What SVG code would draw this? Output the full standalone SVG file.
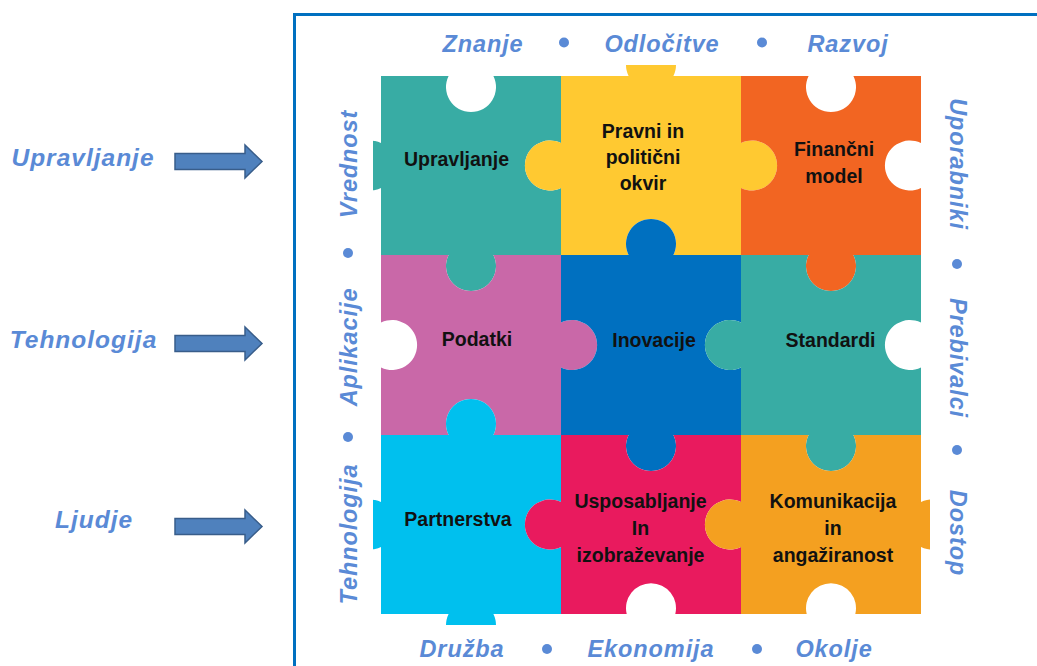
<svg xmlns="http://www.w3.org/2000/svg" width="1037" height="666" viewBox="0 0 1037 666">
<style>
.cell{font-family:"Liberation Sans",Arial,sans-serif;font-weight:bold;font-size:19.5px;fill:#111;text-anchor:middle}
.side{font-family:"Liberation Sans",Arial,sans-serif;font-weight:bold;font-style:italic;font-size:23.5px;fill:#5A8AD6;text-anchor:middle;letter-spacing:0.9px}
.big{font-size:24.5px;letter-spacing:1px}
.dot{fill:#5A8AD6}
.arrow{fill:#4F81BD;stroke:#385D8A;stroke-width:1.5}
</style>
<defs>
<clipPath id="pclip"><rect x="373" y="65" width="557" height="560"/></clipPath>
<path id="arr" d="M0,-8 H70 V-16.5 L87,0 L70,16.5 V8 H0 Z"/>
</defs>
<rect width="1037" height="666" fill="#fff"/>
<path d="M294.5,670 V14.5 H1040" fill="none" stroke="#0070C0" stroke-width="3"/>

<g id="left-labels">
<text class="side big" x="83" y="166">Upravljanje</text>
<text class="side big" x="83.5" y="348">Tehnologija</text>
<text class="side big" x="94" y="528">Ljudje</text>
</g>
<g id="connectors">
<use href="#arr" class="arrow" transform="translate(175,161.5)"/>
<use href="#arr" class="arrow" transform="translate(175,343.5)"/>
<use href="#arr" class="arrow" transform="translate(175,526.5)"/>
</g>

<g id="top-labels">
<text class="side" x="483" y="51.5">Znanje</text>
<circle class="dot" cx="564" cy="42.5" r="5"/>
<text class="side" x="662" y="51.5">Odločitve</text>
<circle class="dot" cx="762" cy="42.5" r="5"/>
<text class="side" x="848" y="51.5">Razvoj</text>
</g>
<g id="bottom-labels">
<text class="side" x="462" y="657">Družba</text>
<circle class="dot" cx="547" cy="649" r="5"/>
<text class="side" x="651" y="657">Ekonomija</text>
<circle class="dot" cx="757" cy="649" r="5"/>
<text class="side" x="834" y="657">Okolje</text>
</g>
<g id="left-vertical">
<text class="side" transform="translate(357,164) rotate(-90)">Vrednost</text>
<circle class="dot" cx="348" cy="253" r="5"/>
<text class="side" transform="translate(357,347) rotate(-90)">Aplikacije</text>
<circle class="dot" cx="348" cy="437" r="5"/>
<text class="side" transform="translate(357,534) rotate(-90)">Tehnologija</text>
</g>
<g id="right-vertical">
<text class="side" transform="translate(950,164) rotate(90)">Uporabniki</text>
<circle class="dot" cx="957" cy="264" r="5"/>
<text class="side" transform="translate(950,358) rotate(90)">Prebivalci</text>
<circle class="dot" cx="957" cy="450" r="5"/>
<text class="side" transform="translate(950,533) rotate(90)">Dostop</text>
</g>

<g id="puzzle" clip-path="url(#pclip)">
<g id="upravljanje">
<path fill="#38ACA4" d="M381,76 H448.6 A25,25 0 1 0 493.4,76 H561 V143.1 A25,25 0 1 0 561,187.9 V255 H493.4 A25,25 0 1 1 448.6,255 H381 V187.9 A25,25 0 1 1 381,143.1 Z"/>
</g>
<g id="pravni">
<path fill="#FFC931" d="M561,76 H628.6 A25,25 0 1 1 673.4,76 H741 V143.1 A25,25 0 1 1 741,187.9 V255 H673.4 A25,25 0 1 0 628.6,255 H561 V187.9 A25,25 0 1 1 561,143.1 Z"/>
</g>
<g id="financni">
<path fill="#F26522" d="M741,76 H808.6 A25,25 0 1 0 853.4,76 H921 V143.1 A25,25 0 1 0 921,187.9 V255 H853.4 A25,25 0 1 1 808.6,255 H741 V187.9 A25,25 0 1 0 741,143.1 Z"/>
</g>
<g id="podatki">
<path fill="#C968A8" d="M381,255 H448.6 A25,25 0 1 0 493.4,255 H561 V322.6 A25,25 0 1 1 561,367.4 V435 H493.4 A25,25 0 1 0 448.6,435 H381 V367.4 A25,25 0 1 0 381,322.6 Z"/>
</g>
<g id="inovacije">
<path fill="#0070C0" d="M561,255 H628.6 A25,25 0 1 1 673.4,255 H741 V322.6 A25,25 0 1 0 741,367.4 V435 H673.4 A25,25 0 1 1 628.6,435 H561 V367.4 A25,25 0 1 0 561,322.6 Z"/>
</g>
<g id="standardi">
<path fill="#38ACA4" d="M741,255 H808.6 A25,25 0 1 0 853.4,255 H921 V322.6 A25,25 0 1 0 921,367.4 V435 H853.4 A25,25 0 1 1 808.6,435 H741 V367.4 A25,25 0 1 1 741,322.6 Z"/>
</g>
<g id="partnerstva">
<path fill="#00C0EE" d="M381,435 H448.6 A25,25 0 1 1 493.4,435 H561 V502.1 A25,25 0 1 0 561,546.9 V614 H493.4 A25,25 0 1 1 448.6,614 H381 V546.9 A25,25 0 1 1 381,502.1 Z"/>
</g>
<g id="usposabljanje">
<path fill="#E91A5E" d="M561,435 H628.6 A25,25 0 1 0 673.4,435 H741 V502.1 A25,25 0 1 0 741,546.9 V614 H675.3 A25,25 0 1 0 626.7,614 H561 V546.9 A25,25 0 1 1 561,502.1 Z"/>
</g>
<g id="komunikacija">
<path fill="#F4A020" d="M741,435 H808.6 A25,25 0 1 0 853.4,435 H921 V502.1 A25,25 0 1 1 921,546.9 V614 H855.3 A25,25 0 1 0 806.7,614 H741 V546.9 A25,25 0 1 1 741,502.1 Z"/>
</g>
</g>

<g id="cell-labels">
<text class="cell" x="456.5" y="165.5">Upravljanje</text>
<text class="cell" x="643" y="138.3">Pravni in</text>
<text class="cell" x="643" y="164">politični</text>
<text class="cell" x="643" y="189.5">okvir</text>
<text class="cell" x="834" y="156">Finančni</text>
<text class="cell" x="834" y="182.5">model</text>
<text class="cell" x="477" y="346">Podatki</text>
<text class="cell" x="654" y="346.5">Inovacije</text>
<text class="cell" x="830.5" y="346.5">Standardi</text>
<text class="cell" x="458" y="526">Partnerstva</text>
<text class="cell" x="640.5" y="508">Usposabljanje</text>
<text class="cell" x="640.5" y="535">In</text>
<text class="cell" x="640.5" y="561.5">izobraževanje</text>
<text class="cell" x="833" y="508">Komunikacija</text>
<text class="cell" x="833" y="535">in</text>
<text class="cell" x="833" y="561.5">angažiranost</text>
</g>
</svg>
